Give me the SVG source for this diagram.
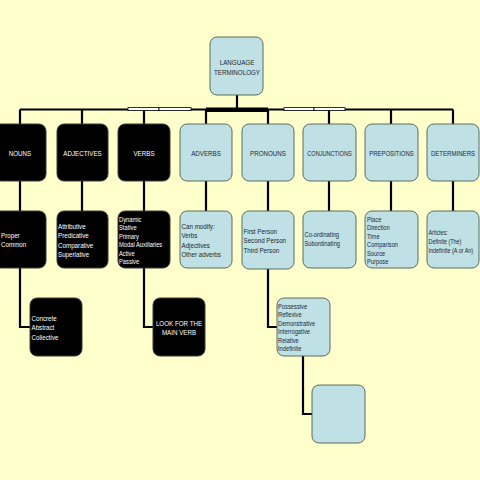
<svg xmlns="http://www.w3.org/2000/svg" width="480" height="480" viewBox="0 0 480 480">
<style>
.blue{fill:#bfe0e4;stroke:#5c6c5c;stroke-width:1}
.black{fill:#000;stroke:#3a3a3a;stroke-width:1}
text{font-family:"Liberation Sans",Arial,sans-serif;font-size:8px}
.dt{fill:#1b2a36}
.wt{fill:#fff}
.c{text-anchor:middle}
.ln{fill:none;stroke:#000;stroke-width:2.2}
</style>
<rect width="480" height="480" fill="#ffffcc"/>
<g id="connectors">
<path class="ln" d="M237 95V109.5M20 109.5H453M20 109.5V124M82 109.5V124M144 109.5V124M206 109.5V124M268 109.5V124M329 109.5V124M391 109.5V124M453 109.5V124"/>
<path class="ln" d="M20 181V211M82 181V211M144 181V211M206 181V211M268 181V211M329 181V211M391 181V211M453 181V211"/>
<path class="ln" d="M20 268V327H30M144 268V327H153M268 269V327H277M303 356V414H312"/>
<rect x="128" y="107.6" width="31" height="3" fill="#fff" stroke="#000" stroke-width="0.8"/>
<rect x="159" y="107.6" width="32" height="3" fill="#fff" stroke="#000" stroke-width="0.8"/>
<rect x="206" y="107.5" width="62" height="4.5" fill="#000"/>
<rect x="284" y="107.6" width="30" height="3" fill="#fff" stroke="#000" stroke-width="0.8"/>
<rect x="314" y="107.6" width="31" height="3" fill="#fff" stroke="#000" stroke-width="0.8"/>
</g>
<g id="root">
<rect class="blue" x="210" y="37" width="53" height="58" rx="7"/>
<text class="dt c" transform="translate(237 65) scale(0.78 1)"><tspan x="0" y="0">LANGUAGE</tspan><tspan x="0" y="10.5">TERMINOLOGY</tspan></text>
</g>
<g id="nouns">
<rect class="black" x="-6" y="124" width="52" height="57" rx="7"/>
<text class="wt c" transform="translate(20 156) scale(0.78 1)">NOUNS</text>
</g>
<g id="adjectives">
<rect class="black" x="57" y="124" width="51" height="57" rx="7"/>
<text class="wt c" transform="translate(82.5 156) scale(0.78 1)">ADJECTIVES</text>
</g>
<g id="verbs">
<rect class="black" x="118" y="124" width="52" height="57" rx="7"/>
<text class="wt c" transform="translate(144 156) scale(0.78 1)">VERBS</text>
</g>
<g id="adverbs">
<rect class="blue" x="180" y="124" width="52" height="57" rx="7"/>
<text class="dt c" transform="translate(206 156) scale(0.78 1)">ADVERBS</text>
</g>
<g id="pronouns">
<rect class="blue" x="242" y="124" width="52" height="57" rx="7"/>
<text class="dt c" transform="translate(268 156) scale(0.78 1)">PRONOUNS</text>
</g>
<g id="conjunctions">
<rect class="blue" x="303" y="124" width="53" height="57" rx="7"/>
<text class="dt c" transform="translate(329.5 156) scale(0.7 1)">CONJUNCTIONS</text>
</g>
<g id="prepositions">
<rect class="blue" x="365" y="124" width="53" height="57" rx="7"/>
<text class="dt c" transform="translate(391.5 156) scale(0.74 1)">PREPOSITIONS</text>
</g>
<g id="determiners">
<rect class="blue" x="427" y="124" width="52" height="57" rx="7"/>
<text class="dt c" transform="translate(453 156) scale(0.76 1)">DETERMINERS</text>
</g>
<g id="nouns-types">
<rect class="black" x="-6" y="211" width="52" height="57" rx="7"/>
<text class="wt" transform="translate(1 238) scale(0.78 1)"><tspan x="0" y="0">Proper</tspan><tspan x="0" y="9.3">Common</tspan></text>
</g>
<g id="adjective-types">
<rect class="black" x="57" y="211" width="51" height="57" rx="7"/>
<text class="wt" transform="translate(58 229) scale(0.78 1)"><tspan x="0" y="0">Attributive</tspan><tspan x="0" y="9.3">Predicative</tspan><tspan x="0" y="18.6">Comparative</tspan><tspan x="0" y="27.9">Superlative</tspan></text>
</g>
<g id="verb-types">
<rect class="black" x="118" y="211" width="52" height="57" rx="7"/>
<text class="wt" transform="translate(119 222) scale(0.72 1)"><tspan x="0" y="0">Dynamic</tspan><tspan x="0" y="8.5">Stative</tspan><tspan x="0" y="17">Primary</tspan><tspan x="0" y="25.5">Modal Auxiliaries</tspan><tspan x="0" y="34">Active</tspan><tspan x="0" y="42.5">Passive</tspan></text>
</g>
<g id="adverb-info">
<rect class="blue" x="180" y="211" width="52" height="57" rx="7"/>
<text class="dt" transform="translate(181.5 229) scale(0.78 1)"><tspan x="0" y="0">Can modify:</tspan><tspan x="0" y="9.3">Verbs</tspan><tspan x="0" y="18.6">Adjectives</tspan><tspan x="0" y="27.9">Other adverbs</tspan></text>
</g>
<g id="pronoun-persons">
<rect class="blue" x="242" y="211" width="52" height="58" rx="7"/>
<text class="dt" transform="translate(243.5 234) scale(0.78 1)"><tspan x="0" y="0">First Person</tspan><tspan x="0" y="9.5">Second Person</tspan><tspan x="0" y="19">Third Person</tspan></text>
</g>
<g id="conjunction-types">
<rect class="blue" x="303" y="211" width="53" height="57" rx="7"/>
<text class="dt" transform="translate(304.5 237) scale(0.72 1)"><tspan x="0" y="0">Co-ordinating</tspan><tspan x="0" y="9.5">Subordinating</tspan></text>
</g>
<g id="preposition-types">
<rect class="blue" x="365" y="211" width="53" height="57" rx="7"/>
<text class="dt" transform="translate(367 222) scale(0.72 1)"><tspan x="0" y="0">Place</tspan><tspan x="0" y="8.5">Direction</tspan><tspan x="0" y="17">Time</tspan><tspan x="0" y="25.5">Comparison</tspan><tspan x="0" y="34">Source</tspan><tspan x="0" y="42.5">Purpose</tspan></text>
</g>
<g id="determiner-types">
<rect class="blue" x="427" y="211" width="52" height="57" rx="7"/>
<text class="dt" transform="translate(428.5 235) scale(0.68 1)"><tspan x="0" y="0">Articles:</tspan><tspan x="0" y="9">Definite (The)</tspan><tspan x="0" y="18">Indefinite (A or An)</tspan></text>
</g>
<g id="noun-subtypes">
<rect class="black" x="30" y="298" width="52" height="58" rx="7"/>
<text class="wt" transform="translate(31.5 321) scale(0.78 1)"><tspan x="0" y="0">Concrete</tspan><tspan x="0" y="9.5">Abstract</tspan><tspan x="0" y="19">Collective</tspan></text>
</g>
<g id="main-verb">
<rect class="black" x="153" y="298" width="52" height="58" rx="7"/>
<text class="wt c" transform="translate(179 326) scale(0.78 1)"><tspan x="0" y="0">LOOK FOR THE</tspan><tspan x="0" y="9.5">MAIN VERB</tspan></text>
</g>
<g id="pronoun-types">
<rect class="blue" x="277" y="298" width="53" height="58" rx="7"/>
<text class="dt" transform="translate(278 309) scale(0.72 1)"><tspan x="0" y="0">Possessive</tspan><tspan x="0" y="8.5">Reflexive</tspan><tspan x="0" y="17">Demonstrative</tspan><tspan x="0" y="25.5">Interrogative</tspan><tspan x="0" y="34">Relative</tspan><tspan x="0" y="42.5">Indefinite</tspan></text>
</g>
<g id="pronoun-note">
<rect class="blue" x="312" y="385" width="53" height="58" rx="7"/>
</g>
</svg>
